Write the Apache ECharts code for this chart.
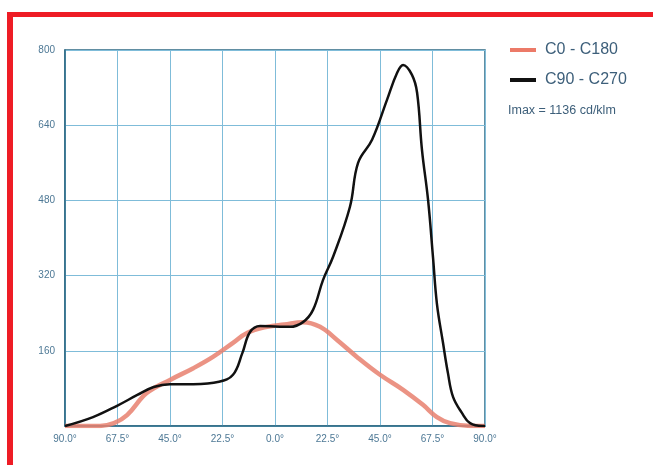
<!DOCTYPE html>
<html>
<head>
<meta charset="utf-8">
<script src="https://cdn.jsdelivr.net/npm/echarts@6/dist/echarts.min.js"></script>
<style>
html,body{margin:0;padding:0;background:#fff;}
#chart{width:653px;height:465px;}
</style>
</head>
<body>
<div id="chart"></div>
<script>
// Data
const seriesNames = ['C0 - C180', 'C90 - C270'];
const c0Angles = [-90, -75, -69, -63.4, -55, -45, -35, -26.6, -18, -12, -3.4, 4, 12, 19.3, 26.6, 35.1, 45, 54.9, 63.4, 69.4, 75, 83.6, 90];
const c0Values = [0, 0, 6, 23, 70, 98, 123, 147, 177, 198, 211, 216, 221, 211, 183, 147, 109, 77, 45, 19, 6, 0, 0];
const c90Angles = [-90, -78, -67.7, -59, -52, -45, -35, -24, -18, -14, -10.7, -6.4, 2, 6.4, 12, 16.3, 20.6, 24.9, 32.1, 35.6, 41.6, 48, 52.3, 54.9, 58.7, 60.9, 63, 65.6, 67.7, 69.4, 72, 74.1, 76.3, 80.1, 83.6, 89, 90];
const c90Values = [0, 19, 43, 66, 83, 89, 89, 94, 109, 155, 200, 213, 211, 211, 221, 247, 311, 360, 466, 560, 609, 694, 751, 768, 747, 709, 587, 481, 360, 260, 177, 113, 62, 28, 6, 0, 0];
const xTicks = [-90, -67.5, -45, -22.5, 0, 22.5, 45, 67.5, 90];
const yTicks = [160, 320, 480, 640, 800];
const imaxText = 'Imax = 1136 cd/klm';

const pair = (a, v) => a.map((x, i) => [x, v[i]]);
const labelColor = '#4d7895';

const chart = echarts.init(document.getElementById('chart'), null, {renderer: 'canvas'});
chart.setOption({
  animation: false,
  backgroundColor: '#ffffff',
  grid: {left: 65, right: 168, top: 50, bottom: 39, show: true, borderColor: '#2e6a84', borderWidth: 1.5},
  xAxis: {
    type: 'value', min: -90, max: 90, interval: 22.5,
    axisLine: {show: true, onZero: false, lineStyle: {color: '#2e6a84', width: 1.5}},
    axisTick: {show: false},
    splitLine: {show: true, lineStyle: {color: '#7fbcd9', width: 1}},
    axisLabel: {
      color: labelColor, fontSize: 10, fontFamily: 'Liberation Sans', margin: 8,
      formatter: v => xTicks.includes(v) ? Math.abs(v).toFixed(1) + '°' : ''
    }
  },
  yAxis: {
    type: 'value', min: 0, max: 800, interval: 160,
    axisLine: {show: true, onZero: false, lineStyle: {color: '#2e6a84', width: 1.5}},
    axisTick: {show: false},
    splitLine: {show: true, lineStyle: {color: '#7fbcd9', width: 1}},
    axisLabel: {
      color: labelColor, fontSize: 10, fontFamily: 'Liberation Sans', margin: 10,
      formatter: v => yTicks.includes(v) ? String(v) : ''
    }
  },
  legend: {
    orient: 'vertical', left: 505, top: 37, itemWidth: 26, itemHeight: 4, itemGap: 14,
    icon: 'rect',
    textStyle: {color: '#3d5f7a', fontSize: 16, fontFamily: 'Liberation Sans', padding: [0, 0, 0, 4]},
    data: seriesNames
  },
  graphic: [
    {type: 'rect', left: 7, top: 12, shape: {width: 6, height: 453}, style: {fill: '#ee1c25'}, z: 100},
    {type: 'rect', left: 7, top: 12, shape: {width: 646, height: 5}, style: {fill: '#ee1c25'}, z: 100},
    {type: 'text', left: 508, top: 104, style: {text: imaxText, fill: '#3d5f7a', fontSize: 12.5, fontFamily: 'Liberation Sans'}}
  ],
  series: [
    {
      name: seriesNames[0], type: 'line', smooth: 0.4, symbol: 'none',
      data: pair(c0Angles, c0Values),
      itemStyle: {color: '#ec7a68'},
      lineStyle: {color: '#e8806f', width: 4.5, opacity: 0.85},
      z: 2
    },
    {
      name: seriesNames[1], type: 'line', smooth: 0.4, symbol: 'none',
      data: pair(c90Angles, c90Values),
      itemStyle: {color: '#111111'},
      lineStyle: {color: '#111111', width: 2.5},
      z: 3
    }
  ]
});
</script>
</body>
</html>
